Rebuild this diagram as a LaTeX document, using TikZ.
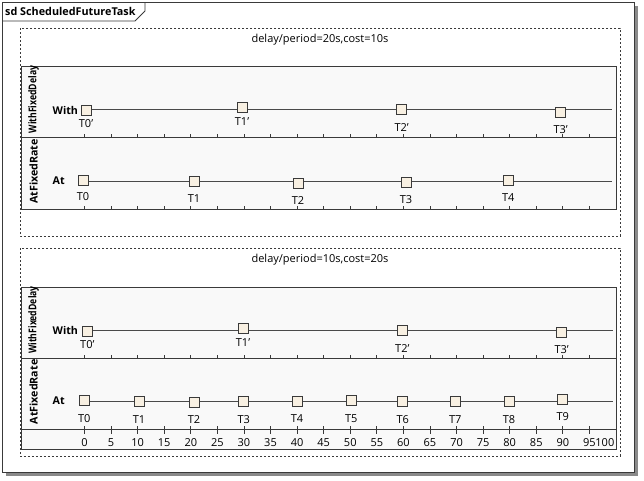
\documentclass[tikz,border=0pt]{standalone}
\usepackage{fontspec}
\setmainfont{Open Sans}
\definecolor{framec}{HTML}{3A3A3A}
\definecolor{shadowc}{HTML}{8A8A8A}
\definecolor{lanefill}{HTML}{F9F9F9}
\definecolor{sqfill}{HTML}{F8F0E2}
\definecolor{linec}{HTML}{4A4A4A}
\begin{document}
\begin{tikzpicture}[x=1pt,y=-1pt,
  txt/.style={inner sep=0pt,font=\fontsize{11}{13}\selectfont,text=black},
  btxt/.style={inner sep=0pt,font=\fontsize{10.7}{13}\selectfont\bfseries,text=black},
  lanebox/.style={draw=framec,fill=lanefill,line width=0.9pt},
  dashframe/.style={draw=framec,dashed,dash pattern=on 2.2pt off 1.8pt,line width=0.8pt},
  sq/.style={draw=framec,fill=sqfill,line width=1pt,minimum size=10pt,inner sep=0pt},
  lifeline/.style={draw=linec,line width=0.9pt},
  tickmark/.style={draw=framec,line width=0.8pt},
  tlabel/.style={txt,anchor=center}
]
\useasboundingbox (0,0) rectangle (644,480);
% outer frame with shadow
\fill[shadowc] (6,6) rectangle (638,476);
\draw[framec,fill=white,line width=0.9pt] (2,2) rectangle (634,472);
% title tab
\draw[framec,line width=0.9pt] (2,21) -- (135,21) -- (145,11) -- (145,2);
\node[inner sep=0pt,font=\fontsize{10.8}{13}\selectfont\bfseries,anchor=west] (title) at (5,11.5) {sd ScheduledFutureTask};

% ================= section 1 =================
\draw[dashframe] (20,28) rectangle (620,236);
\node[txt] (s1title) at (320,40) {delay/period=20s,cost=10s};
\draw[lanebox] (21,66) rectangle (616,209);
\draw[framec,line width=0.9pt] (21,137) -- (616,137);
\foreach \t in {0,5,...,95} {
  \draw[tickmark] ({84.5+5.315*\t},137) -- ++(0,-3);
  \draw[tickmark] ({84.5+5.315*\t},209) -- ++(0,-3);
}
\node[btxt,rotate=90] (s1wname) at (33.5,99.5) {\scalebox{0.81}[1]{WithFixedDelay}};
\node[btxt,rotate=90] (s1aname) at (33.5,171.5) {AtFixedRate};
\node[btxt,anchor=west] (s1with) at (52.5,110) {With};
\node[btxt,anchor=west] (s1at) at (52.5,181) {At};
% lifelines
\coordinate (s1wstart) at (86,109);
\coordinate (s1wend) at (612,109);
\coordinate (s1astart) at (83,181);
\coordinate (s1aend) at (612,181);
\draw[lifeline] (s1wstart) -- (s1wend);
\draw[lifeline] (s1astart) -- (s1aend);
% with fixed delay squares
\node[sq] (s1w0) at (86,110) {};
\node[sq] (s1w1) at (242,107.7) {};
\node[sq] (s1w2) at (401.7,109.3) {};
\node[sq] (s1w3) at (560.7,112) {};
\node[tlabel] (s1w0l) at (86,124) {T0'};
\node[tlabel] (s1w1l) at (242,122) {T1'};
\node[tlabel] (s1w2l) at (401.7,127.7) {T2'};
\node[tlabel] (s1w3l) at (560.7,129.3) {T3'};
% at fixed rate squares
\node[sq] (s1a0) at (83,180) {};
\node[sq] (s1a1) at (194,181.7) {};
\node[sq] (s1a2) at (298,183) {};
\node[sq] (s1a3) at (406,182.3) {};
\node[sq] (s1a4) at (508.3,180) {};
\node[tlabel] (s1a0l) at (83,197) {T0};
\node[tlabel] (s1a1l) at (194,199) {T1};
\node[tlabel] (s1a2l) at (298,201) {T2};
\node[tlabel] (s1a3l) at (406,199.5) {T3};
\node[tlabel] (s1a4l) at (508.3,197.7) {T4};

% ================= section 2 =================
\draw[dashframe] (20,248) rectangle (620,456);
\node[txt] (s2title) at (320,260) {delay/period=10s,cost=20s};
\draw[lanebox] (21,287) rectangle (616,449);
\draw[framec,line width=0.9pt] (21,358) -- (616,358);
\draw[framec,line width=0.9pt] (21,429) -- (616,429);
\foreach \t in {0,5,...,95} {
  \draw[tickmark] ({84.5+5.315*\t},358) -- ++(0,-3);
  \draw[tickmark] ({84.5+5.315*\t},426) -- ++(0,8);
}
\foreach \t in {0,5,...,95} {
  \node[tlabel] (ax\t) at ({84.5+5.315*\t},442.7) {\t};
}
\node[txt,anchor=east] (ax100) at (614.5,442.7) {100};
\node[btxt,rotate=90] (s2wname) at (33.5,320) {\scalebox{0.81}[1]{WithFixedDelay}};
\node[btxt,rotate=90] (s2aname) at (33.5,392) {AtFixedRate};
\node[btxt,anchor=west] (s2with) at (52.5,330.5) {With};
\node[btxt,anchor=west] (s2at) at (52.5,401) {At};
\coordinate (s2wstart) at (87.3,330);
\coordinate (s2wend) at (612.5,330);
\coordinate (s2astart) at (84.3,401);
\coordinate (s2aend) at (612.5,401);
\draw[lifeline] (s2wstart) -- (s2wend);
\draw[lifeline] (s2astart) -- (s2aend);
\node[sq] (s2w0) at (87.3,331) {};
\node[sq] (s2w1) at (243,328.3) {};
\node[sq] (s2w2) at (402.3,330) {};
\node[sq] (s2w3) at (561.7,332.3) {};
\node[tlabel] (s2w0l) at (87.3,344.7) {T0'};
\node[tlabel] (s2w1l) at (243,342.7) {T1'};
\node[tlabel] (s2w2l) at (402.3,348.3) {T2'};
\node[tlabel] (s2w3l) at (561.7,350) {T3'};
\node[sq] (s2a0) at (84.3,400.3) {};
\node[sq] (s2a1) at (139,401) {};
\node[sq] (s2a2) at (194,402) {};
\node[sq] (s2a3) at (243.7,401) {};
\node[sq] (s2a4) at (297,401) {};
\node[sq] (s2a5) at (351.3,400) {};
\node[sq] (s2a6) at (402.7,401.7) {};
\node[sq] (s2a7) at (455.3,401.7) {};
\node[sq] (s2a8) at (509,401.7) {};
\node[sq] (s2a9) at (562.7,399.3) {};
\node[tlabel] (s2a0l) at (84.3,418.3) {T0};
\node[tlabel] (s2a1l) at (139,419.3) {T1};
\node[tlabel] (s2a2l) at (194,420) {T2};
\node[tlabel] (s2a3l) at (243.7,419.3) {T3};
\node[tlabel] (s2a4l) at (297,419) {T4};
\node[tlabel] (s2a5l) at (351.3,418.3) {T5};
\node[tlabel] (s2a6l) at (402.7,420) {T6};
\node[tlabel] (s2a7l) at (455.3,420) {T7};
\node[tlabel] (s2a8l) at (509,420) {T8};
\node[tlabel] (s2a9l) at (562.7,416.7) {T9};
\end{tikzpicture}
\end{document}
